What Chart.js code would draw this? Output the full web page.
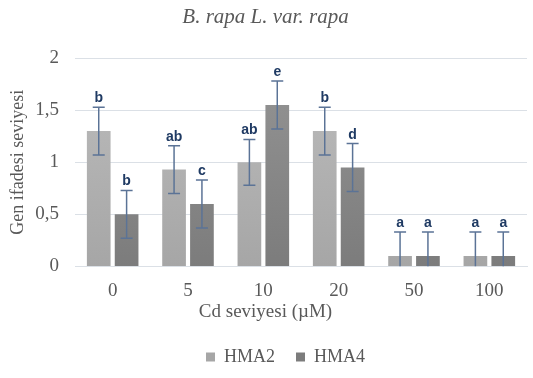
<!DOCTYPE html>
<html>
<head>
<meta charset="utf-8">
<script src="https://cdn.jsdelivr.net/npm/chart.js@4"></script>
<style>
    html, body { margin: 0; padding: 0; background: #fff; }
    #wrap { width: 533px; height: 378px; }
</style>
</head>
<body>
<div id="wrap"><canvas id="barChart"></canvas></div>
<script>
// Cd levels and expression values
const cdLevels = ['0', '5', '10', '20', '50', '100'];
const hma2Values = [1.3, 0.93, 1.0, 1.3, 0.1, 0.1];
const hma4Values = [0.5, 0.6, 1.55, 0.95, 0.1, 0.1];
const hma2Errors = [0.23, 0.23, 0.22, 0.23, 0.23, 0.23];
const hma4Errors = [0.23, 0.23, 0.23, 0.23, 0.23, 0.23];
const hma2Letters = ['b', 'ab', 'ab', 'b', 'a', 'a'];
const hma4Letters = ['b', 'c', 'e', 'd', 'a', 'a'];
const yTicks = [0, 0.5, 1, 1.5, 2];

const serif = '"Liberation Serif", "Times New Roman", serif';
const textGray = '#595959';

// vertical gradient for bars, lighter at top
function barGradient(context, top, bottom) {
    const chart = context.chart;
    const area = chart.chartArea;
    if (!area) return bottom;
    const g = chart.ctx.createLinearGradient(0, area.top, 0, area.bottom);
    g.addColorStop(0, top);
    g.addColorStop(1, bottom);
    return g;
}

// Draw error bars and significance letters
const errorBarPlugin = {
    id: 'errorBars',
    afterDatasetsDraw(chart) {
        const ctx = chart.ctx;
        const yScale = chart.scales.y;
        const errs = [hma2Errors, hma4Errors];
        const letters = [hma2Letters, hma4Letters];
        ctx.save();
        ctx.beginPath();
        ctx.rect(chart.chartArea.left, chart.chartArea.top - 30, chart.chartArea.width, chart.chartArea.height + 30);
        ctx.clip();
        chart.data.datasets.forEach((ds, di) => {
            const meta = chart.getDatasetMeta(di);
            meta.data.forEach((bar, i) => {
                const v = ds.data[i];
                const e = errs[di][i];
                const yTop = yScale.getPixelForValue(v + e);
                const yBot = yScale.getPixelForValue(Math.max(v - e, 0));
                const x = bar.x;
                ctx.strokeStyle = '#5b7396';
                ctx.lineWidth = 1.5;
                ctx.beginPath();
                ctx.moveTo(x, yTop);
                ctx.lineTo(x, yBot);
                ctx.moveTo(x - 6, yTop);
                ctx.lineTo(x + 6, yTop);
                if (v - e > 0) {
                    ctx.moveTo(x - 6, yBot);
                    ctx.lineTo(x + 6, yBot);
                }
                ctx.stroke();
                ctx.fillStyle = '#1f3a63';
                ctx.font = 'bold 14px "Liberation Sans", Arial, sans-serif';
                ctx.textAlign = 'center';
                ctx.textBaseline = 'alphabetic';
                ctx.fillText(letters[di][i], x, yTop - 5);
            });
        });
        ctx.restore();
    }
};

// legend sits a bit right of the canvas centre
const legendShift = {
    id: 'legendShift',
    afterLayout(chart) {
        chart.legend.left += 20;
        chart.legend.right += 20;
    }
};

new Chart(document.getElementById('barChart'), {
    type: 'bar',
    data: {
        labels: cdLevels,
        datasets: [
            {
                label: 'HMA2',
                data: hma2Values,
                backgroundColor: ctx => barGradient(ctx, '#bdbdbd', '#a6a6a6'),
                categoryPercentage: 0.74,
                barPercentage: 0.85
            },
            {
                label: 'HMA4',
                data: hma4Values,
                backgroundColor: ctx => barGradient(ctx, '#959595', '#7c7c7c'),
                categoryPercentage: 0.74,
                barPercentage: 0.85
            }
        ]
    },
    options: {
        responsive: true,
        maintainAspectRatio: false,
        animation: false,
        layout: { padding: { left: 4, right: 6, top: 0, bottom: 2 } },
        scales: {
            y: {
                min: 0,
                max: 2,
                afterBuildTicks: axis => { axis.ticks = yTicks.map(v => ({ value: v })); },
                afterFit: axis => { axis.width = 71; },
                ticks: {
                    color: textGray,
                    font: { family: serif, size: 19 },
                    padding: 16,
                    callback: v => String(v).replace('.', ',')
                },
                grid: { color: '#dbe0e6', drawTicks: false },
                border: { display: false },
                title: {
                    display: true,
                    text: 'Gen ifadesi seviyesi',
                    color: textGray,
                    font: { family: serif, size: 18 },
                    padding: { top: 3, bottom: 4 }
                }
            },
            x: {
                ticks: {
                    color: textGray,
                    font: { family: serif, size: 19 },
                    padding: 5
                },
                grid: { display: false },
                border: { color: '#dbe0e6' }
            }
        },
        plugins: {
            title: {
                display: true,
                text: 'B. rapa L. var. rapa',
                color: textGray,
                font: { family: serif, size: 21, style: 'italic', weight: 'normal' },
                padding: { top: 5, bottom: 28 }
            },
            // x axis title, centred on the whole canvas like the original
            subtitle: {
                display: true,
                position: 'bottom',
                weight: 500,
                text: 'Cd seviyesi (µM)',
                color: textGray,
                font: { family: serif, size: 19, weight: 'normal' },
                padding: { top: -7, bottom: 4 }
            },
            legend: {
                position: 'bottom',
                labels: {
                    color: textGray,
                    font: { family: serif, size: 18 },
                    boxWidth: 9,
                    boxHeight: 9,
                    padding: 21
                }
            },
            tooltip: { enabled: false }
        }
    },
    plugins: [errorBarPlugin, legendShift]
});
</script>
</body>
</html>
